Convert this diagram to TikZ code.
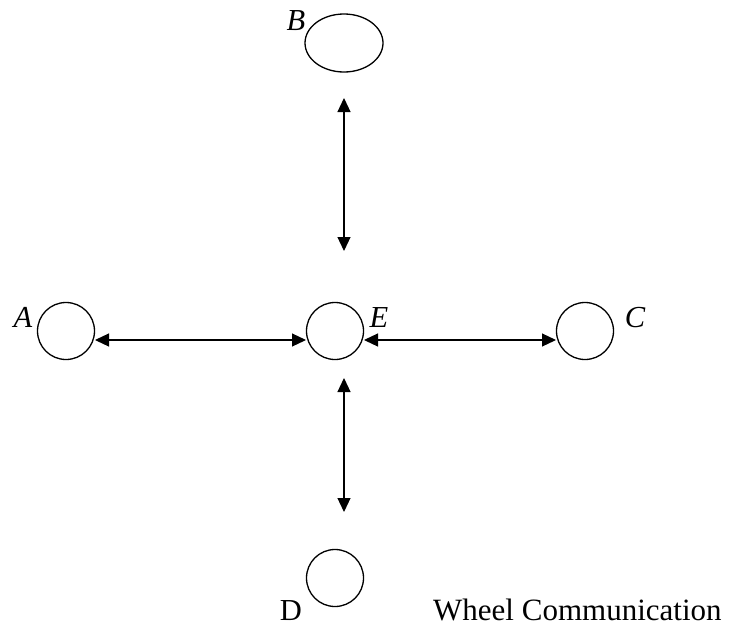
\documentclass[tikz,border=0pt]{standalone}
\usepackage{fontspec}
\setmainfont{Liberation Serif}
\usetikzlibrary{arrows.meta,shapes.geometric}
\begin{document}
\begin{tikzpicture}[x=1pt,y=-1pt,
  nodecirc/.style={draw,circle,line width=1.3pt,minimum size=57pt,inner sep=0pt},
  nodeoval/.style={draw,ellipse,line width=1.3pt,minimum width=78pt,minimum height=58pt,inner sep=0pt},
  lbl/.style={font=\fontsize{30.5}{32}\selectfont\itshape,inner sep=0pt},
  link/.style={line width=1.2pt,{Triangle[length=14pt,width=13pt]}-{Triangle[length=14pt,width=13pt]}}]
\useasboundingbox (0,0) rectangle (731,627);
\node[nodeoval] (B) at (344,43) {};
\node[nodecirc] (A) at (66,331) {};
\node[nodecirc] (E) at (335,331) {};
\node[nodecirc] (C) at (585,331) {};
\node[nodecirc] (D) at (335,578) {};
\node[lbl] (lB) at (296,21) {B};
\node[lbl] (lA) at (23,317) {A};
\node[lbl] (lE) at (379,318) {E};
\node[lbl] (lC) at (635,318) {C};
\node[lbl,font=\fontsize{30.5}{32}\selectfont] (lD) at (291,611) {D};
\node[inner sep=0pt,anchor=base west,font=\fontsize{31}{34}\selectfont] (title) at (433,620) {Wheel Communication};
\coordinate (t1) at (344,98);
\coordinate (t2) at (344,251);
\coordinate (t3) at (344,378);
\coordinate (t4) at (344,512);
\coordinate (h1) at (95,340);
\coordinate (h2) at (306,340);
\coordinate (h3) at (364,340);
\coordinate (h4) at (556,340);
\draw[link] (t1) -- (t2);
\draw[link] (t3) -- (t4);
\draw[link] (h1) -- (h2);
\draw[link] (h3) -- (h4);
\end{tikzpicture}
\end{document}
